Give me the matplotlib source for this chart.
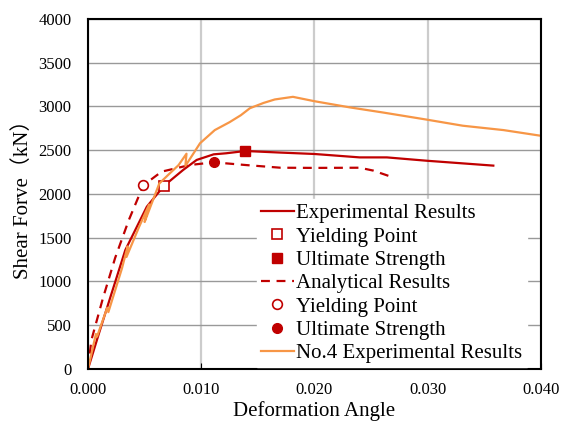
import matplotlib
matplotlib.use("Agg")
import matplotlib.pyplot as plt
from matplotlib.ticker import FormatStrFormatter

# experimental results (test specimen)
exp_x = [0.0, 0.0010, 0.0020, 0.0033, 0.0052, 0.0067, 0.0084, 0.0096, 0.0111, 0.0122,
         0.0139, 0.0170, 0.0200, 0.0240, 0.0264, 0.0299, 0.0358]
exp_y = [0, 420, 830, 1360, 1855, 2092, 2274, 2389, 2453, 2465,
         2491, 2473, 2457, 2418, 2418, 2380, 2324]
exp_yield = (0.0067, 2092)
exp_ult = (0.0139, 2491)

# analytical results
ana_x = [0.0, 0.0003, 0.0013, 0.0024, 0.0036, 0.0046, 0.0049, 0.0065, 0.0090, 0.0111,
         0.0140, 0.0170, 0.0200, 0.0240, 0.0252, 0.0267]
ana_y = [0, 330, 800, 1270, 1700, 2010, 2100, 2255, 2331, 2362,
         2330, 2300, 2298, 2300, 2267, 2200]
ana_yield = (0.0049, 2100)
ana_ult = (0.0111, 2362)

# No.4 experimental results
no4_x = [0.0, 0.0007, 0.0008, 0.0017, 0.0018, 0.0030, 0.0035, 0.0034, 0.0045, 0.0054,
         0.0050, 0.0063, 0.0071, 0.0080, 0.0087, 0.0086, 0.0099, 0.0112, 0.0125, 0.0135,
         0.0143, 0.0155, 0.0165, 0.0181, 0.0200, 0.0231, 0.0261, 0.0299, 0.0331, 0.0367,
         0.0400]
no4_y = [0, 400, 370, 700, 650, 1150, 1400, 1280, 1620, 1880,
         1680, 2120, 2220, 2330, 2460, 2320, 2580, 2730, 2820, 2900,
         2980, 3040, 3080, 3110, 3060, 2990, 2930, 2850, 2780, 2730,
         2665]

red = "#C00000"
orange = "#F79646"

plt.rcParams["font.family"] = ["Liberation Serif", "Noto Sans CJK JP", "DejaVu Serif"]

fig, ax = plt.subplots(figsize=(5.64, 4.21), dpi=100)

ax.plot(exp_x, exp_y, color=red, lw=1.6, label="Experimental Results")
ax.plot(*exp_yield, "s", mfc="white", mec=red, mew=1.2, ms=7, label="Yielding Point")
ax.plot(*exp_ult, "s", color=red, ms=7, label="Ultimate Strength")
ax.plot(ana_x, ana_y, color=red, lw=1.6, ls=(0, (4, 3)), label="Analytical Results")
ax.plot(*ana_yield, "o", mfc="white", mec=red, mew=1.2, ms=7, label="Yielding Point")
ax.plot(*ana_ult, "o", color=red, ms=7, label="Ultimate Strength")
ax.plot(no4_x, no4_y, color=orange, lw=1.6, label="No.4 Experimental Results")

ax.set_xlim(0, 0.04)
ax.set_ylim(0, 4000)
ax.set_xticks([0, 0.01, 0.02, 0.03, 0.04])
ax.set_yticks(range(0, 4001, 500))
ax.xaxis.set_major_formatter(FormatStrFormatter("%.3f"))
ax.tick_params(direction="in", length=4, labelsize=12)
ax.tick_params(axis="x", pad=9)
ax.tick_params(axis="y", pad=12, length=0)
ax.grid(axis="y", color="#999999", lw=1)
ax.grid(axis="x", color="#cccccc", lw=1.6)
ax.set_axisbelow(True)
for s in ax.spines.values():
    s.set_linewidth(1.5)

ax.set_xlabel("Deformation Angle", fontsize=15, labelpad=2.5)
ax.set_ylabel("Shear Forve（kN）", fontsize=15, labelpad=4)

leg = ax.legend(loc="lower right", bbox_to_anchor=(0.972, 0.0), fontsize=15,
                frameon=True, fancybox=False, edgecolor="white", framealpha=1,
                handlelength=1.6, handletextpad=0.1, labelspacing=0.18,
                borderaxespad=0.08, borderpad=0.2)

fig.subplots_adjust(left=0.156, right=0.959, top=0.955, bottom=0.1235)
fig.savefig("out.png", dpi=100)
